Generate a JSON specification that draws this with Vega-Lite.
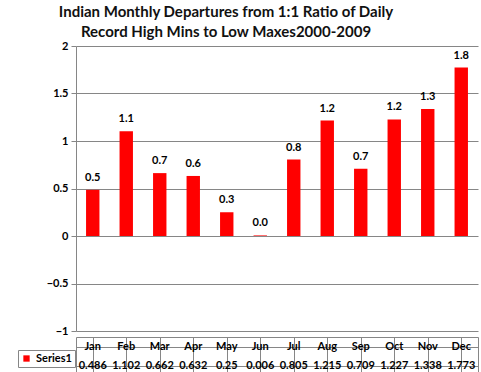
{
  "$schema": "https://vega.github.io/schema/vega-lite/v6.json",
  "background": "white",
  "padding": {"left": 17, "top": 5, "right": 3, "bottom": 1},
  "datasets": {
    "d": [
      {"month": "Jan", "value": 0.486},
      {"month": "Feb", "value": 1.102},
      {"month": "Mar", "value": 0.662},
      {"month": "Apr", "value": 0.632},
      {"month": "May", "value": 0.25},
      {"month": "Jun", "value": 0.006},
      {"month": "Jul", "value": 0.805},
      {"month": "Aug", "value": 1.215},
      {"month": "Sep", "value": 0.709},
      {"month": "Oct", "value": 1.227},
      {"month": "Nov", "value": 1.338},
      {"month": "Dec", "value": 1.773}
    ]
  },
  "title": {
    "text": ["Indian Monthly Departures from 1:1 Ratio of Daily", "Record High Mins to Low Maxes2000-2009"],
    "font": "Lato", "fontSize": 15, "fontWeight": "bold", "color": "#111111",
    "lineHeight": 20, "anchor": "middle", "frame": "bounds", "offset": 0, "dx": -22
  },
  "spacing": 0,
  "config": {
    "font": "Lato",
    "view": {"stroke": null},
    "axis": {"labelFont": "Lato", "labelFontWeight": "bold", "labelFontSize": 11, "labelColor": "#000000", "domainColor": "#868686", "tickColor": "#868686", "gridColor": "#868686"}
  },
  "vconcat": [
    {
      "width": 402, "height": 285,
      "data": {"name": "d"},
      "encoding": {
        "x": {"field": "month", "type": "nominal", "sort": null,
              "scale": {"paddingInner": 0.6, "paddingOuter": 0.3}, "axis": null},
        "y": {"field": "value", "type": "quantitative",
              "scale": {"domain": [-1, 2], "nice": false, "zero": false},
              "axis": {"values": [-1, -0.5, 0, 0.5, 1, 1.5, 2], "title": null, "grid": true, "tickSize": 5, "labelPadding": 3, "format": "~g"}}
      },
      "layer": [
        {"mark": {"type": "bar", "color": "#ff0000"},
         "encoding": {"color": {"datum": "Series1", "scale": {"range": ["#ff0000"]},
           "legend": {"title": null, "orient": "none", "legendX": -58, "legendY": 304, "strokeColor": "#868686", "padding": 3,
                      "symbolType": "square", "symbolSize": 40, "symbolStrokeWidth": 0, "symbolOpacity": 1,
                      "labelFont": "Lato", "labelFontWeight": "bold", "labelFontSize": 11, "labelColor": "#000000", "symbolOffset": 0}}}},
        {"mark": {"type": "text", "dy": -9, "baseline": "alphabetic", "font": "Lato", "fontWeight": "bold", "fontSize": 11, "color": "#000000"},
         "encoding": {"text": {"field": "value", "type": "quantitative", "format": ".1f"}}}
      ]
    },
    {
      "width": 402, "height": 39,
      "view": {"stroke": "#868686"},
      "data": {"name": "d"},
      "encoding": {
        "x": {"field": "month", "type": "nominal", "sort": null,
              "scale": {"paddingInner": 0, "paddingOuter": 0},
              "axis": {"title": null, "labels": false, "ticks": false, "domain": false, "grid": true, "bandPosition": 0, "orient": "top"}}
      },
      "layer": [
        {"mark": {"type": "text", "font": "Lato", "fontWeight": "bold", "fontSize": 11, "color": "#000000"},
         "encoding": {"y": {"datum": "Month", "type": "nominal",
                            "scale": {"domain": ["Month", "Series1"], "paddingInner": 0, "paddingOuter": 0},
                            "axis": {"title": null, "labels": false, "ticks": false, "domain": false, "grid": true, "bandPosition": 0}},
                      "text": {"field": "month", "type": "nominal"}}},
        {"mark": {"type": "text", "font": "Lato", "fontWeight": "bold", "fontSize": 11, "color": "#000000"},
         "encoding": {"y": {"datum": "Series1", "type": "nominal"},
                      "text": {"field": "value", "type": "nominal"}}}
      ]
    }
  ]
}
